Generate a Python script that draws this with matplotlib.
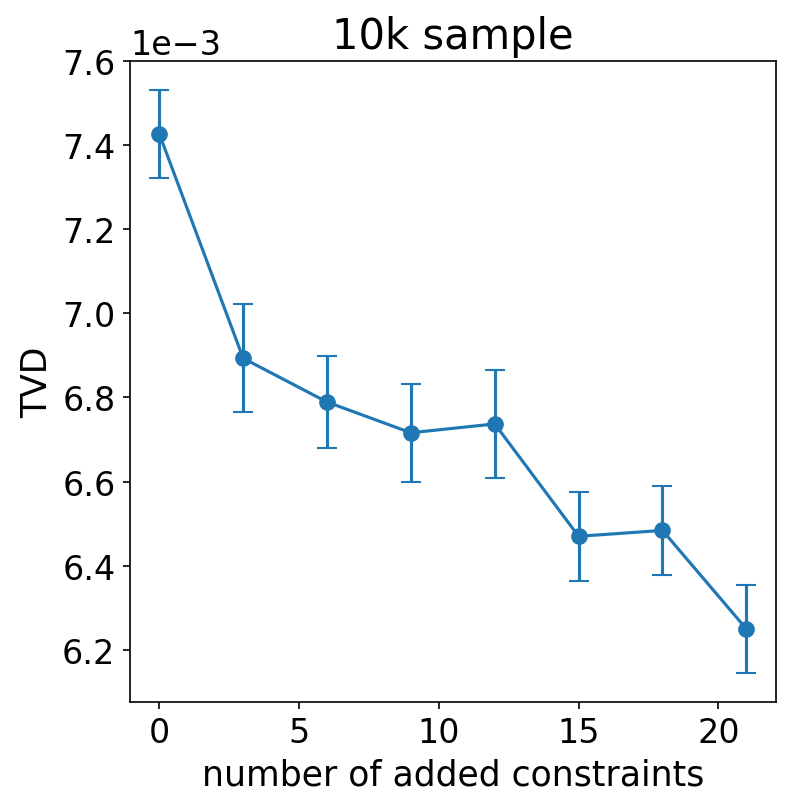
import matplotlib
matplotlib.use("Agg")
import matplotlib.pyplot as plt

constraints = [0, 3, 6, 9, 12, 15, 18, 21]
tvd_mean = [7.426e-3, 6.893e-3, 6.789e-3, 6.716e-3, 6.737e-3, 6.470e-3, 6.484e-3, 6.250e-3]
tvd_err = [0.104e-3, 0.128e-3, 0.110e-3, 0.116e-3, 0.128e-3, 0.106e-3, 0.105e-3, 0.104e-3]

plt.rcParams['font.size'] = 16
fig = plt.figure(figsize=(5.28, 5.4133), dpi=150)
ax = fig.add_axes([0.1641, 0.1346, 0.9794 - 0.1641, 0.924 - 0.1346])
ax.errorbar(constraints, tvd_mean, yerr=tvd_err, fmt='-o', color='#1f77b4',
            capsize=5, markersize=7)
ax.set_ylim(6.077e-3, 7.600e-3)
ax.ticklabel_format(axis='y', style='sci', scilimits=(0, 0))
ax.set_title('10k sample', fontsize=20)
ax.set_xlabel('number of added constraints', fontsize=16.6)
ax.set_ylabel('TVD', fontsize=16.6)
fig.savefig('out.png', dpi=150)
